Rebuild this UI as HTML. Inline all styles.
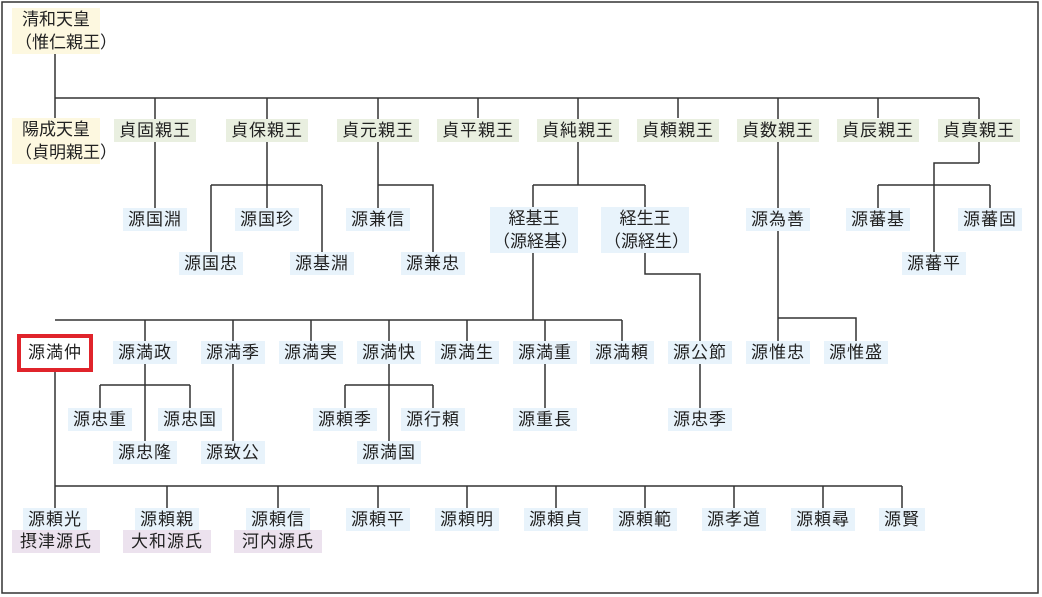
<!DOCTYPE html>
<html><head><meta charset="utf-8"><style>
html,body{margin:0;padding:0;background:#fff;}
#c{position:relative;width:1042px;height:597px;overflow:hidden;font-family:"Liberation Sans","Noto Sans CJK JP",sans-serif;}
.b{position:absolute;transform:translateX(-50%);height:23px;line-height:23px;font-size:17px;color:#222;white-space:nowrap;padding:0 5px;letter-spacing:1px;text-align:center;}
.n{background:#e8f3fb;}
.g{background:#e9efe0;}
.y{background:#fdf8e0;}
.p{background:#ece2ee;}
.t{height:46px;line-height:23px;letter-spacing:0;padding:0 3px;}
svg{position:absolute;left:0;top:0;}
</style></head><body><div id="c">
<svg width="1042" height="597">
<rect x="2" y="2" width="1036" height="591" fill="none" stroke="#333" stroke-width="1.5"/>
<g stroke="#333" stroke-width="1.5" fill="none">
<path d="M55 52V118M55 98H979M155 98V208M267 98V208M378 98V208M478 98V118M578 98V185M678 98V118M778 98V208M878 98V118M979 98V163"/>
<path d="M211 185H322M211 185V252M322 185V252"/>
<path d="M378 185H433V252"/>
<path d="M533 185H645M533 185V320M645 185V274H700V408"/>
<path d="M979 163H934V252M878 185H990M878 185V208M990 185V208"/>
<path d="M778 230V341M778 318H856V341"/>
<path d="M55 320H622M145 320V341M233 320V341M311 320V341M389 320V341M467 320V341M545 320V341M622 320V341"/>
<path d="M145 363V441M100 385H190M100 385V408M190 385V408"/>
<path d="M233 363V441"/>
<path d="M389 363V441M345 385H433M345 385V408M433 385V408"/>
<path d="M545 363V408"/>
<path d="M55 370V508M55 486H902M167 486V508M278 486V508M378 486V508M467 486V508M556 486V508M645 486V508M734 486V508M823 486V508M902 486V508"/>
</g>
</svg>
<div class="b y t" style="left:56px;top:8px;width:82px;">清和天皇<br>（惟仁親王）</div>
<div class="b y t" style="left:56px;top:118px;width:82px;">陽成天皇<br>（貞明親王）</div>
<div class="b g" style="left:155px;top:119px;">貞固親王</div>
<div class="b g" style="left:267px;top:119px;">貞保親王</div>
<div class="b g" style="left:378px;top:119px;">貞元親王</div>
<div class="b g" style="left:478px;top:119px;">貞平親王</div>
<div class="b g" style="left:578px;top:119px;">貞純親王</div>
<div class="b g" style="left:678px;top:119px;">貞頼親王</div>
<div class="b g" style="left:778px;top:119px;">貞数親王</div>
<div class="b g" style="left:878px;top:119px;">貞辰親王</div>
<div class="b g" style="left:979px;top:119px;">貞真親王</div>
<div class="b n" style="left:155px;top:208px;">源国淵</div>
<div class="b n" style="left:267px;top:208px;">源国珍</div>
<div class="b n" style="left:378px;top:208px;">源兼信</div>
<div class="b n t" style="left:534px;top:207px;width:82px;">経基王<br>（源経基）</div>
<div class="b n t" style="left:645px;top:207px;width:82px;">経生王<br>（源経生）</div>
<div class="b n" style="left:778px;top:208px;">源為善</div>
<div class="b n" style="left:878px;top:208px;">源蕃基</div>
<div class="b n" style="left:990px;top:208px;">源蕃固</div>
<div class="b n" style="left:211px;top:252px;">源国忠</div>
<div class="b n" style="left:322px;top:252px;">源基淵</div>
<div class="b n" style="left:433px;top:252px;">源兼忠</div>
<div class="b n" style="left:934px;top:252px;">源蕃平</div>
<div class="b" style="left:55px;top:334px;width:58px;height:30px;line-height:30px;border:4px solid #e0242b;">源満仲</div>
<div class="b n" style="left:145px;top:341px;">源満政</div>
<div class="b n" style="left:233px;top:341px;">源満季</div>
<div class="b n" style="left:311px;top:341px;">源満実</div>
<div class="b n" style="left:389px;top:341px;">源満快</div>
<div class="b n" style="left:467px;top:341px;">源満生</div>
<div class="b n" style="left:545px;top:341px;">源満重</div>
<div class="b n" style="left:622px;top:341px;">源満頼</div>
<div class="b n" style="left:700px;top:341px;">源公節</div>
<div class="b n" style="left:778px;top:341px;">源惟忠</div>
<div class="b n" style="left:856px;top:341px;">源惟盛</div>
<div class="b n" style="left:100px;top:408px;">源忠重</div>
<div class="b n" style="left:190px;top:408px;">源忠国</div>
<div class="b n" style="left:345px;top:408px;">源頼季</div>
<div class="b n" style="left:433px;top:408px;">源行頼</div>
<div class="b n" style="left:545px;top:408px;">源重長</div>
<div class="b n" style="left:700px;top:408px;">源忠季</div>
<div class="b n" style="left:145px;top:441px;">源忠隆</div>
<div class="b n" style="left:233px;top:441px;">源致公</div>
<div class="b n" style="left:389px;top:441px;">源満国</div>
<div class="b n" style="left:55px;top:508px;">源頼光</div>
<div class="b n" style="left:167px;top:508px;">源頼親</div>
<div class="b n" style="left:278px;top:508px;">源頼信</div>
<div class="b n" style="left:378px;top:508px;">源頼平</div>
<div class="b n" style="left:467px;top:508px;">源頼明</div>
<div class="b n" style="left:556px;top:508px;">源頼貞</div>
<div class="b n" style="left:645px;top:508px;">源頼範</div>
<div class="b n" style="left:734px;top:508px;">源孝道</div>
<div class="b n" style="left:823px;top:508px;">源頼尋</div>
<div class="b n" style="left:902px;top:508px;">源賢</div>
<div class="b p" style="left:56px;top:530px;width:78px;">摂津源氏</div>
<div class="b p" style="left:167px;top:530px;width:78px;">大和源氏</div>
<div class="b p" style="left:278px;top:530px;width:78px;">河内源氏</div>
</div></body></html>
